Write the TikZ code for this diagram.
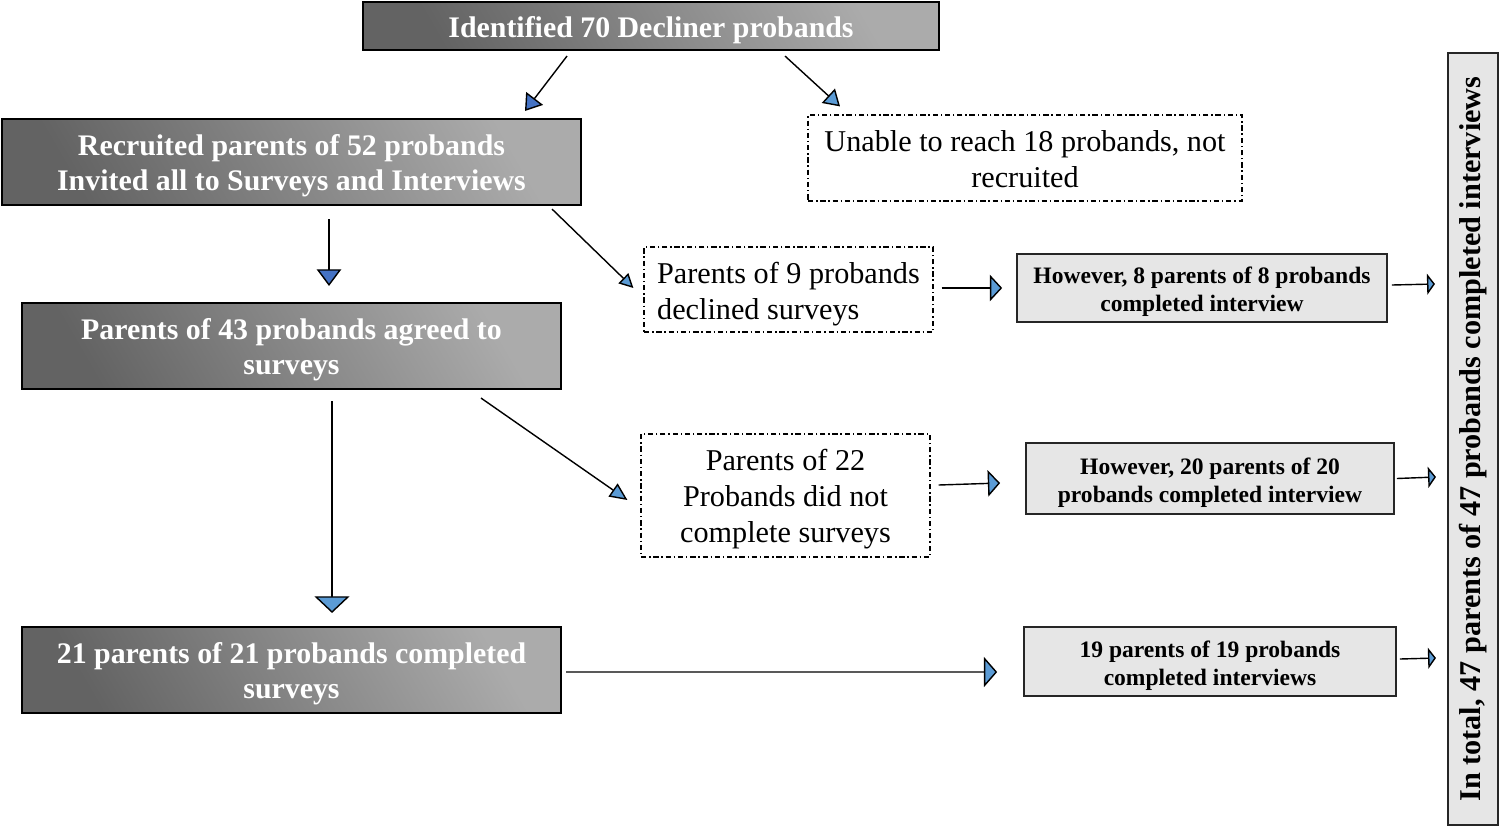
\documentclass[tikz,border=0pt]{standalone}
\usepackage{fontspec}
\setmainfont{Liberation Serif}
\usetikzlibrary{arrows.meta,calc}
\definecolor{dkgray}{HTML}{636363}
\definecolor{ltgray}{HTML}{ABABAB}
\definecolor{boxgray}{HTML}{E6E6E6}
\definecolor{dblue}{HTML}{4472C4}
\definecolor{lblue}{HTML}{5B9BD5}
\tikzset{
  lower/.style={execute at begin node={\rule{0pt}{#1}}},
  darkbase/.style={draw=black, line width=1.2pt, shading=axis, left color=dkgray, right color=ltgray, shading angle=120,
    text=white, font=\bfseries\fontsize{17}{20.4}\selectfont, align=center, inner sep=0pt},
  darkbox/.style={darkbase, lower=36.5pt},
  dashbox/.style={draw=black, line width=0.7pt, dash pattern=on 3pt off 1.6pt on 0.8pt off 1.6pt, fill=white,
    font=\fontsize{17.2}{20.4}\selectfont, inner sep=0pt},
  graybox/.style={draw=black!85, line width=1pt, fill=boxgray, font=\bfseries\fontsize{13.4}{15.9}\selectfont,
    align=center, inner sep=0pt, lower=29.6pt},
  arrw/.style n args={3}{draw=black, line width=0.8pt, line join=round, -{Triangle[length=#1,width=#2,fill=#3]}}
}
\begin{document}
\begin{tikzpicture}[x=0.02cm,y=-0.02cm]
\useasboundingbox (0,0) rectangle (1500,826);
% boxes
\node[darkbase, minimum width=11.52cm, minimum height=0.96cm, lower=16.2pt] (top) at (651,26) {Identified 70 Decliner probands};
\node[darkbox, minimum width=11.58cm, minimum height=1.72cm] (rec) at (291.5,162) {Recruited parents of 52 probands\\Invited all to Surveys and Interviews};
\node[darkbox, minimum width=10.78cm, minimum height=1.72cm] (p43) at (291.5,346) {Parents of 43 probands agreed to\\surveys};
\node[darkbox, minimum width=10.78cm, minimum height=1.72cm] (p21) at (291.5,670) {21 parents of 21 probands completed\\surveys};
\node[dashbox, minimum width=8.68cm, minimum height=1.72cm, align=center, lower=33.3pt] (unable) at (1025,158) {Unable to reach 18 probands, not\\recruited};
\node[dashbox, minimum width=5.78cm, minimum height=1.70cm, align=left, lower=37.9pt] (p9) at (788.5,289.5) {Parents of 9 probands\\declined surveys};
\node[dashbox, minimum width=5.78cm, minimum height=2.46cm, align=center, lower=57pt] (p22) at (785.5,495.5) {Parents of 22\\Probands did not\\complete surveys};
\node[graybox, minimum width=7.40cm, minimum height=1.36cm] (h8) at (1202,288) {However, 8 parents of 8 probands\\completed interview};
\node[graybox, minimum width=7.36cm, minimum height=1.42cm] (h20) at (1210,478.5) {However, 20 parents of 20\\probands completed interview};
\node[graybox, minimum width=7.44cm, minimum height=1.38cm] (h19) at (1210,661.5) {19 parents of 19 probands\\completed interviews};
\node[draw=black!85, line width=1.2pt, fill=boxgray, minimum width=15.44cm, minimum height=1.0cm, inner sep=0pt,
  rotate=90, font=\bfseries\fontsize{17.2}{18}\selectfont] (tot) at (1473,439) {In total, 47 parents of 47 probands completed interviews};
% connectors
\draw[arrw={9pt}{12pt}{dblue}] ([shift={(-84,5)}]top.south) -- ([shift={(233.5,-7)}]rec.north);
\draw[arrw={9pt}{11pt}{lblue}] ([shift={(134,5)}]top.south) -- ([shift={(-185,-8)}]unable.north);
\draw[arrw={9.5pt}{14pt}{dblue}] ([shift={(37.5,13)}]rec.south) -- ([shift={(37.5,-16)}]p43.north);
\draw[arrw={8pt}{8pt}{lblue}] ([shift={(-30,3)}]rec.south east) -- ([shift={(-10,-1.5)}]p9.west);
\draw[arrw={9.5pt}{20pt}{lblue}] ([shift={(40.5,11)}]p43.south) -- ([shift={(40.5,-13)}]p21.north);
\draw[arrw={10pt}{9pt}{lblue}] ([shift={(-81,8)}]p43.south east) -- ([shift={(-13,4.5)}]p22.west);
\draw[arrw={7pt}{15pt}{lblue}] ([shift={(8,-1.5)}]p9.east) -- ([shift={(-14,0)}]h8.west);
\draw[arrw={7pt}{15pt}{lblue}] ([shift={(8,-10.5)}]p22.east) -- ([shift={(-25,4.5)}]h20.west);
\draw[arrw={7.5pt}{17pt}{lblue}] ([shift={(4,2)}]p21.east) -- ([shift={(-26,10.5)}]h19.west);
\draw[arrw={4.5pt}{12pt}{lblue}] ([shift={(4,-3)}]h8.east) -- ([shift={(-12,-155)}]tot.north);
\draw[arrw={4.5pt}{12pt}{lblue}] ([shift={(2,0)}]h20.east) -- ([shift={(-11,38)}]tot.north);
\draw[arrw={4.5pt}{12pt}{lblue}] ([shift={(3,-2.5)}]h19.east) -- ([shift={(-11,219)}]tot.north);
\end{tikzpicture}
\end{document}
